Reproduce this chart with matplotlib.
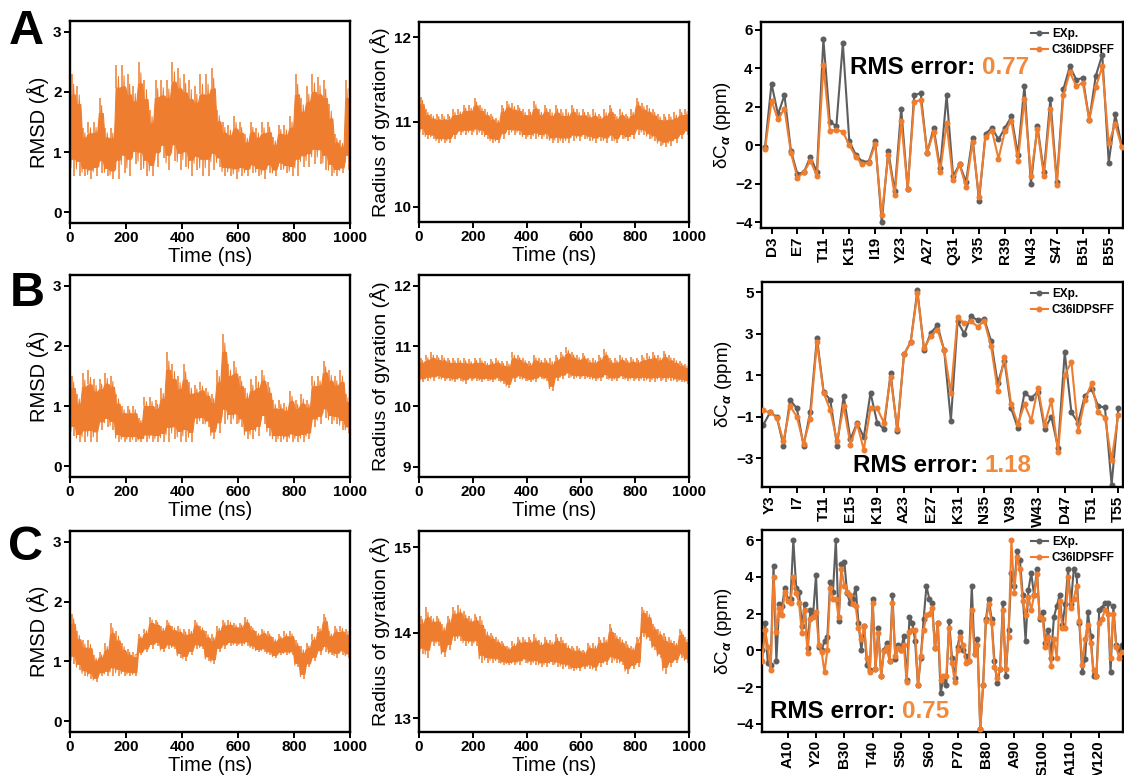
import matplotlib
matplotlib.use("Agg")
import matplotlib.pyplot as plt
import numpy as np

plt.rcParams['font.family'] = ['Liberation Sans', 'DejaVu Sans']
plt.rcParams['font.weight'] = 'bold'
plt.rcParams['mathtext.fontset'] = 'custom'
plt.rcParams['mathtext.rm'] = 'Liberation Sans'
plt.rcParams['mathtext.it'] = 'Liberation Sans:italic'

ORANGE = '#EE7D2F'
GREY = '#5E5E5E'
RMS_ORANGE = '#F28A3C'

# ---------------- time series (per 20 ns window: low / high extremes) ----------------
rmsd_a_hi = [2.3, 2.1, 1.4, 1.5, 1.5, 1.9, 1.4, 1.4, 2.45, 2.45,
             2.3, 2.1, 2.5, 2.2, 1.7, 2.2, 2.2, 2.2, 2.5, 2.4,
             2.3, 2.2, 2.1, 2.3, 2.3, 2.4, 1.7, 1.5, 1.45, 1.6,
             1.5, 1.3, 1.5, 1.4, 1.5, 1.5, 1.25, 1.45, 1.45, 1.6,
             2.3, 1.9, 2.1, 2.3, 2.25, 2.2, 1.8, 1.3, 1.2, 2.2]
rmsd_a_lo = [0.6, 0.6, 0.6, 0.55, 0.6, 0.65, 0.6, 0.55, 0.55, 0.65,
             0.6, 0.8, 0.7, 0.6, 0.6, 0.75, 0.9, 0.7, 0.85, 0.7,
             0.75, 0.6, 0.7, 0.6, 0.6, 0.7, 0.75, 0.6, 0.6, 0.55,
             0.6, 0.6, 0.65, 0.6, 0.55, 0.65, 0.6, 0.7, 0.65, 0.6,
             0.6, 0.75, 0.75, 0.8, 0.8, 0.7, 0.6, 0.6, 0.65, 0.7]

rmsd_b_hi = [1.5, 1.2, 1.55, 1.6, 1.45, 1.45, 1.55, 1.5, 1.2, 1.0,
             1.0, 1.0, 0.8, 1.15, 1.15, 1.1, 1.3, 1.9, 1.7, 1.5,
             1.7, 1.4, 1.35, 1.4, 1.3, 1.2, 1.6, 2.2, 1.7, 1.75,
             1.5, 1.3, 1.45, 1.5, 1.6, 1.4, 1.1, 1.1, 1.05, 1.25,
             1.1, 1.2, 1.1, 1.5, 1.5, 1.75, 1.6, 1.5, 1.6, 1.2]
rmsd_b_lo = [0.5, 0.4, 0.4, 0.4, 0.4, 0.6, 0.65, 0.6, 0.4, 0.4,
             0.4, 0.4, 0.4, 0.4, 0.4, 0.4, 0.4, 0.4, 0.45, 0.4,
             0.4, 0.4, 0.7, 0.7, 0.65, 0.45, 0.55, 0.7, 0.7, 0.7,
             0.65, 0.45, 0.45, 0.5, 0.7, 0.5, 0.4, 0.4, 0.4, 0.4,
             0.4, 0.4, 0.45, 0.65, 0.7, 0.8, 0.7, 0.7, 0.6, 0.55]

rmsd_c_hi = [1.8, 1.5, 1.35, 1.35, 1.1, 1.15, 1.3, 1.65, 1.5, 1.3,
             1.2, 1.15, 1.45, 1.55, 1.75, 1.7, 1.6, 1.7, 1.6, 1.6,
             1.55, 1.55, 1.7, 1.6, 1.5, 1.45, 1.6, 1.7, 1.7, 1.65,
             1.65, 1.75, 1.6, 1.5, 1.55, 1.5, 1.4, 1.45, 1.5, 1.5,
             1.35, 1.25, 1.3, 1.45, 1.6, 1.8, 1.5, 1.6, 1.6, 1.55]
rmsd_c_lo = [0.95, 0.85, 0.75, 0.7, 0.65, 0.75, 0.75, 0.75, 0.75, 0.75,
             0.75, 0.75, 1.1, 1.15, 1.2, 1.25, 1.15, 1.2, 1.2, 1.05,
             1.0, 1.1, 1.2, 1.2, 1.0, 0.95, 1.15, 1.2, 1.25, 1.25,
             1.25, 1.25, 1.2, 1.15, 1.15, 1.1, 1.05, 1.1, 1.1, 1.1,
             0.9, 0.7, 0.9, 1.0, 1.1, 1.15, 1.1, 1.05, 1.1, 1.05]

rg_a_hi = [11.3, 11.15, 11.1, 11.1, 11.1, 11.1, 11.15, 11.15, 11.2, 11.2,
           11.28, 11.2, 11.15, 11.1, 11.05, 11.2, 11.25, 11.22, 11.2, 11.15,
           11.15, 11.25, 11.15, 11.2, 11.15, 11.2, 11.15, 11.15, 11.2, 11.15,
           11.15, 11.12, 11.15, 11.1, 11.15, 11.2, 11.1, 11.15, 11.1, 11.15,
           11.28, 11.22, 11.2, 11.15, 11.1, 11.1, 11.1, 11.12, 11.15, 11.15]
rg_a_lo = [10.85, 10.8, 10.8, 10.75, 10.75, 10.75, 10.8, 10.85, 10.85, 10.85,
           10.85, 10.85, 10.8, 10.75, 10.75, 10.8, 10.85, 10.85, 10.85, 10.8,
           10.8, 10.8, 10.8, 10.8, 10.75, 10.75, 10.75, 10.75, 10.78, 10.78,
           10.8, 10.78, 10.75, 10.78, 10.75, 10.78, 10.75, 10.8, 10.78, 10.8,
           10.85, 10.85, 10.8, 10.78, 10.72, 10.7, 10.72, 10.75, 10.8, 10.85]

rg_b_hi = [10.8, 10.85, 10.9, 10.85, 10.85, 10.8, 10.8, 10.8, 10.8, 10.78,
           10.8, 10.8, 10.75, 10.78, 10.8, 10.75, 10.75, 10.9, 10.85, 10.8,
           10.75, 10.85, 10.8, 10.8, 10.8, 10.85, 10.9, 10.98, 10.9, 10.85,
           10.88, 10.8, 10.8, 10.85, 10.95, 10.8, 10.8, 10.85, 10.8, 10.82,
           10.8, 10.85, 10.88, 10.9, 10.85, 10.92, 10.85, 10.8, 10.75, 10.7]
rg_b_lo = [10.4, 10.42, 10.42, 10.45, 10.42, 10.42, 10.4, 10.42, 10.38, 10.42,
           10.42, 10.4, 10.42, 10.4, 10.42, 10.38, 10.3, 10.4, 10.45, 10.42,
           10.4, 10.4, 10.45, 10.42, 10.25, 10.42, 10.45, 10.48, 10.45, 10.45,
           10.45, 10.45, 10.42, 10.42, 10.45, 10.42, 10.42, 10.45, 10.42, 10.42,
           10.42, 10.42, 10.4, 10.4, 10.42, 10.4, 10.42, 10.4, 10.4, 10.38]

rg_c_hi = [14.2, 14.3, 14.2, 14.2, 14.1, 14.2, 14.3, 14.32, 14.25, 14.2,
           14.22, 14.2, 14.05, 14.0, 13.95, 13.9, 13.85, 13.9, 13.95, 13.95,
           13.95, 13.98, 13.92, 13.95, 13.92, 13.98, 13.95, 13.88, 13.85, 13.85,
           13.8, 13.88, 13.88, 13.95, 13.95, 14.1, 14.0, 13.95, 13.9, 13.85,
           13.95, 14.3, 14.25, 14.1, 14.05, 14.0, 13.95, 13.9, 14.05, 13.95]
rg_c_lo = [13.75, 13.7, 13.85, 13.85, 13.72, 13.8, 13.9, 13.9, 13.85, 13.85,
           13.85, 13.65, 13.65, 13.65, 13.65, 13.62, 13.62, 13.62, 13.62, 13.65,
           13.62, 13.62, 13.6, 13.6, 13.62, 13.6, 13.58, 13.58, 13.55, 13.55,
           13.58, 13.58, 13.55, 13.6, 13.62, 13.65, 13.65, 13.62, 13.52, 13.58,
           13.6, 13.95, 13.9, 13.8, 13.7, 13.52, 13.6, 13.65, 13.7, 13.65]

# ---------------- chemical shifts ----------------
res_a = list(range(2, 58))
exp_a = [-0.1, 3.2, 1.6, 2.6, -0.3, -1.5, -1.4, -0.6, -1.4, 5.5,
         1.2, 1.0, 5.3, 0.2, -0.5, -0.85, -0.85, 0.2, -4.0, -0.3,
         -2.4, 1.9, -2.3, 2.6, 2.7, -0.4, 0.9, -1.2, 2.6, -1.6,
         -1.0, -1.9, 0.4, -2.9, 0.6, 0.9, 0.3, 0.9, 1.5, -0.5,
         3.1, -2.0, 1.0, -1.4, 2.4, -1.9, 2.9, 4.1, 3.4, 3.5,
         1.3, 3.6, 4.7, -0.9, 1.6, -0.05]
sim_a = [-0.2, 2.3, 1.35, 1.9, -0.4, -1.7, -1.4, -0.8, -1.6, 4.15,
         0.75, 0.8, 0.7, 0.0, -0.6, -1.0, -0.9, 0.05, -3.65, -0.5,
         -2.6, 1.25, -2.25, 2.25, 2.35, -0.4, 0.7, -1.4, 1.15, -1.8,
         -1.0, -2.15, 0.15, -2.7, 0.45, 0.75, -0.7, 0.75, 1.25, -0.8,
         2.4, -1.6, 0.85, -1.6, 1.9, -2.05, 2.6, 3.8, 3.05, 3.25,
         1.3, 3.0, 4.1, 0.1, 1.1, -0.1]
ticks_a = ['D3', 'E7', 'T11', 'K15', 'I19', 'Y23', 'A27', 'Q31', 'Y35',
           'R39', 'N43', 'S47', 'B51', 'B55']

res_b = list(range(2, 56))
exp_b = [-1.4, -0.8, -1.0, -2.4, -0.2, -0.6, -2.4, -0.8, 2.8, 0.2,
         -0.2, -2.4, 0.0, -2.1, -1.3, -2.0, 0.15, -1.3, -1.6, 1.1,
         -1.7, 2.0, 2.6, 5.1, 2.2, 3.05, 3.4, 2.2, -1.2, 3.6,
         3.0, 3.85, 3.65, 3.7, 2.65, 0.6, 1.7, -0.6, -1.55, 0.15,
         -0.1, 0.2, -1.6, -1.0, -2.5, 2.1, -0.8, -1.3, 0.0, 0.35,
         -0.5, -0.55, -4.3, -0.6]
sim_b = [-0.7, -0.8, -1.05, -2.2, -0.5, -1.0, -2.3, -1.1, 2.6, 0.15,
         -0.7, -2.2, -0.5, -2.35, -1.35, -2.6, -0.6, -0.6, -1.3, 0.9,
         -1.6, 2.0, 2.6, 4.95, 2.3, 2.9, 3.2, 2.2, 0.15, 3.8,
         3.5, 3.6, 3.35, 3.6, 2.4, 0.25, 1.9, -0.4, -1.35, -0.4,
         -1.2, 0.4, -1.4, -0.2, -2.7, 1.0, 1.65, -1.7, -0.2, 0.6,
         -0.8, -1.05, -3.1, -0.9]
ticks_b = ['Y3', 'I7', 'T11', 'E15', 'K19', 'A23', 'E27', 'K31', 'N35',
           'V39', 'W43', 'D47', 'T51', 'T55']

res_c = list(range(1, 129))
exp_c = [0.0, 1.5, -0.7, -0.8, 4.6, -0.6, 2.5, 2.4, 3.4, 2.8,
         2.8, 6.0, 3.4, 3.2, 1.3, 2.5, 0.1, 2.2, 2.0, 4.1,
         0.2, 0.0, 0.5, 0.7, 3.7, 3.2, 6.0, 1.6, 4.7, 4.8,
         3.1, 2.6, 2.8, 3.4, 1.5, 0.0, 1.3, -0.8, -1.1, 2.8,
         -1.0, 1.2, -1.4, 0.0, 0.4, -0.6, 3.0, -0.5, 0.3, 0.0,
         0.8, -1.6, 1.8, 1.5, 0.5, -1.9, -0.4, 1.7, 3.5, 2.8,
         2.6, 0.1, 1.5, -2.3, -1.6, -1.9, 1.6, -0.4, -1.5, 0.2,
         1.0, 0.0, -0.3, -0.6, 3.5, -0.2, 0.6, -4.3, -1.9, 1.7,
         2.8, 1.7, -0.6, -1.8, -1.0, 2.6, -1.4, 1.1, 4.2, 3.5,
         5.4, 4.9, 3.0, 0.5, 3.3, 4.2, 3.0, 4.4, 1.7, 2.1,
         0.4, 1.1, -0.4, 1.8, 2.4, 3.0, 1.4, 2.5, 4.4, 2.5,
         4.4, 4.1, 1.5, -1.2, -0.5, 2.1, 0.8, -1.4, -1.4, 2.2,
         2.3, 2.6, 2.6, -1.2, 2.4, 0.3, 0.0, 0.3]
sim_c = [-0.6, 1.1, 0.2, -1.1, 4.0, 1.0, 2.3, 1.9, 3.2, 2.7,
         2.6, 4.0, 3.1, 2.6, 0.95, 2.2, -0.15, 1.7, 1.8, 2.1,
         0.3, -0.1, -1.2, 0.0, 3.4, 2.8, 2.8, 1.8, 4.4, 3.5,
         3.2, 3.0, 2.5, 2.4, 1.2, 0.6, 1.3, -0.4, -1.2, 2.55,
         -1.0, 0.95, -1.4, -0.05, 0.2, -0.6, 2.55, -0.3, 0.1, 0.0,
         0.3, -1.75, 1.0, 1.1, 1.1, -1.9, -0.3, 1.1, 1.9, 2.0,
         2.3, 0.1, 1.5, -1.6, -1.4, -1.4, 1.2, -0.7, -1.7, 0.0,
         0.7, 0.3, -0.7, -0.6, 2.2, -0.2, 0.3, -4.3, -1.9, 1.6,
         2.5, 1.5, -0.9, -1.5, -1.0, 2.2, -1.0, 0.7, 6.0, 3.1,
         5.1, 4.4, 2.7, 1.9, 2.9, 2.2, 3.0, 4.15, 1.8, 1.7,
         0.2, 0.7, -0.85, 0.6, -0.4, 2.7, 1.2, 1.2, 4.0, 2.3,
         2.8, 3.5, 1.6, -0.8, 0.6, 1.4, 0.4, -1.1, -1.4, 1.5,
         1.7, 2.2, 2.0, -0.4, 2.0, 0.2, -0.4, -0.1]
ticks_c = ['A10', 'Y20', 'B30', 'T40', 'S50', 'S60', 'P70', 'B80', 'A90',
           'S100', 'A110', 'V120']

rms_values = ['0.77', '1.18', '0.75']

# ---------------- figure ----------------
W, H = 1124, 775
fig = plt.figure(figsize=(W / 100, H / 100), dpi=100)


def axes_px(x0, y0, x1, y1):
    return fig.add_axes([x0 / W, 1 - y1 / H, (x1 - x0) / W, (y1 - y0) / H])


def style(ax):
    for s in ax.spines.values():
        s.set_linewidth(1.7)
        s.set_color('black')
    ax.tick_params(direction='out', length=4, width=1.4, labelsize=11,
                   pad=2, top=False, right=False)


def draw_trace(ax, lo, hi):
    """Dense fluctuating trace: a solid core plus spikes to each window's extremes."""
    lo = np.asarray(lo, float)
    hi = np.asarray(hi, float)
    n = len(lo)
    edges = np.linspace(0, 1000, n + 1)
    span = hi - lo
    core_lo = lo + 0.17 * span
    core_hi = hi - 0.2 * span
    # blend neighbouring windows slightly so the core edge is not blocky
    t_core = np.repeat(edges, 2)[1:-1]
    t_core[1::2] -= 3
    t_core[2::2] += 3
    t_core = np.r_[0, t_core[1:-1], 1000]
    c_lo = np.repeat(core_lo, 2)
    c_hi = np.repeat(core_hi, 2)
    ax.fill_between(t_core, c_lo, c_hi, color=ORANGE, lw=0.8,
                    edgecolor=ORANGE)
    t_up = edges[:-1] + 6
    t_dn = edges[:-1] + 15
    ax.vlines(t_up, core_hi, hi, color=ORANGE, lw=1.1)
    ax.vlines(t_dn, lo, core_lo, color=ORANGE, lw=1.1)
    # fine texture inside the band
    t = np.empty(2 * n)
    v = np.empty(2 * n)
    t[0::2] = edges[:-1] + 3
    t[1::2] = edges[:-1] + 13
    v[0::2] = lo + 0.08 * span
    v[1::2] = hi - 0.1 * span
    ax.plot(t, v, color=ORANGE, lw=0.7)


rows = [
    dict(letter='A', rmsd=(rmsd_a_lo, rmsd_a_hi), rg=(rg_a_lo, rg_a_hi),
         rg_lim=(9.82, 12.18), rg_ticks=[10, 11, 12],
         res=res_a, exp=exp_a, sim=sim_a, tick_labels=ticks_a,
         tick_pos=list(range(3, 56, 4)), xlim=(1.38, 57.2),
         ylim=(-4.3, 6.4), yticks=[-4, -2, 0, 2, 4, 6]),
    dict(letter='B', rmsd=(rmsd_b_lo, rmsd_b_hi), rg=(rg_b_lo, rg_b_hi),
         rg_lim=(8.83, 12.18), rg_ticks=[9, 10, 11, 12],
         res=res_b, exp=exp_b, sim=sim_b, tick_labels=ticks_b,
         tick_pos=list(range(3, 56, 4)), xlim=(1.8, 55.7),
         ylim=(-4.4, 5.5), yticks=[-3, -1, 1, 3, 5]),
    dict(letter='C', rmsd=(rmsd_c_lo, rmsd_c_hi), rg=(rg_c_lo, rg_c_hi),
         rg_lim=(12.84, 15.19), rg_ticks=[13, 14, 15],
         res=res_c, exp=exp_c, sim=sim_c, tick_labels=ticks_c,
         tick_pos=list(range(10, 121, 10)), xlim=(0.93, 128.4),
         ylim=(-4.45, 6.55), yticks=[-4, -2, 0, 2, 4, 6]),
]

left_box = [(70, 21, 350, 223), (70, 275, 350, 477), (70, 531, 350, 732)]
mid_box = [(419, 22, 689, 222), (419, 275, 689, 477), (419, 531, 689, 732)]
right_box = [(761, 22, 1123, 228), (762, 282, 1123, 487), (762, 530, 1123, 732)]
letter_pos = [(26, 31), (27, 293), (26, 547)]
rms_pos = [(850, 68), (853, 465), (770, 712)]

for i, row in enumerate(rows):
    # RMSD
    ax = axes_px(*left_box[i])
    style(ax)
    draw_trace(ax, *row['rmsd'])
    ax.set_xlim(0, 1000)
    ax.set_ylim(-0.18, 3.18)
    ax.set_xticks([0, 200, 400, 600, 800, 1000])
    ax.set_yticks([0, 1, 2, 3])
    ax.set_xlabel('Time (ns)', fontsize=14.5, fontweight='normal', labelpad=1)
    ax.set_ylabel('RMSD (Å)', fontsize=14.5, fontweight='normal', labelpad=3)

    # radius of gyration
    ax = axes_px(*mid_box[i])
    style(ax)
    draw_trace(ax, *row['rg'])
    ax.set_xlim(0, 1000)
    ax.set_ylim(*row['rg_lim'])
    ax.set_xticks([0, 200, 400, 600, 800, 1000])
    ax.set_yticks(row['rg_ticks'])
    ax.set_xlabel('Time (ns)', fontsize=14.5, fontweight='normal', labelpad=1)
    ax.set_ylabel('Radius of gyration (Å)', fontsize=14,
                  fontweight='normal', labelpad=3)

    # secondary chemical shifts
    ax = axes_px(*right_box[i])
    style(ax)
    ax.plot(row['res'], row['exp'], color=GREY, lw=1.5, marker='o', ms=3.3,
            label='EXp.', zorder=2)
    ax.plot(row['res'], row['sim'], color=ORANGE, lw=1.5, marker='o', ms=3.3,
            label='C36IDPSFF', zorder=3)
    ax.set_xlim(*row['xlim'])
    ax.set_ylim(*row['ylim'])
    ax.set_yticks(row['yticks'])
    ax.set_xticks(row['tick_pos'])
    ax.set_xticklabels(row['tick_labels'], rotation=90)
    ax.set_ylabel('δC$_{\\alpha}$ (ppm)', fontsize=13.5, fontweight='normal',
                  labelpad=2)
    ax.legend(loc='upper right', bbox_to_anchor=(1.0, 1.01), frameon=False,
              prop={'weight': 'bold', 'size': 8.5}, handlelength=1.5,
              handletextpad=0.3, labelspacing=0.35, borderaxespad=0.3)

    # panel letter
    lx, ly = letter_pos[i]
    fig.text(lx / W, 1 - ly / H, row['letter'], fontsize=35,
             fontweight='bold', ha='center', va='center')

    # RMS error annotation
    rx, ry = rms_pos[i]
    fig.text(rx / W, 1 - ry / H, 'RMS error:', fontsize=17.5,
             fontweight='bold', ha='left', va='center')
    fig.text((rx + 132) / W, 1 - ry / H, rms_values[i], fontsize=17.5,
             fontweight='bold', ha='left', va='center', color=RMS_ORANGE)

fig.savefig('out.png', dpi=100)
